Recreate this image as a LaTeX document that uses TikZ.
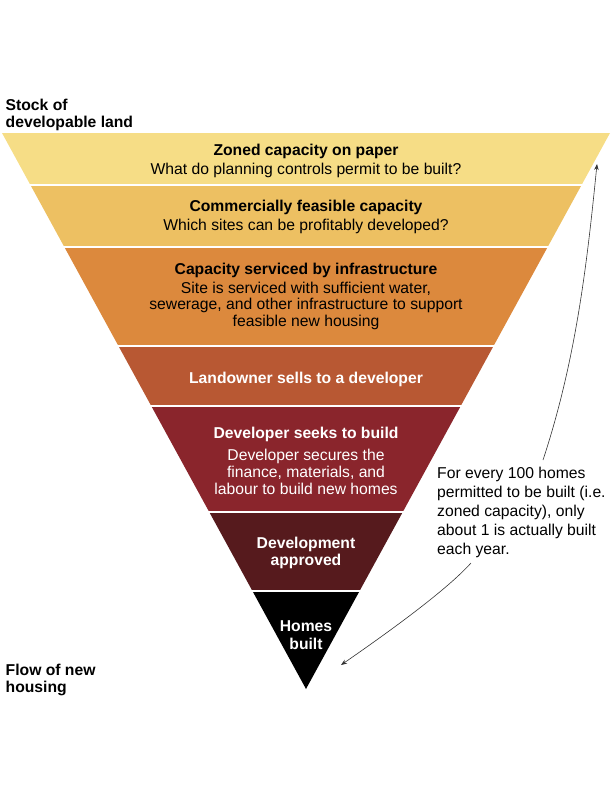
\documentclass[tikz,border=0pt]{standalone}
\usepackage{fontspec}
\setmainfont{Liberation Sans}
\usetikzlibrary{arrows.meta}

\definecolor{zoned}{HTML}{F6DD86}
\definecolor{feasible}{HTML}{EDC062}
\definecolor{serviced}{HTML}{DC893D}
\definecolor{landsale}{HTML}{B85833}
\definecolor{seeks}{HTML}{8A252C}
\definecolor{approved}{HTML}{561A1D}
\definecolor{built}{HTML}{000000}

\tikzset{
  band/.style={align=center,inner sep=0pt,font=\fontsize{15.7}{16.7}\selectfont},
  headband/.style={band,font=\fontsize{15.7}{16.7}\selectfont\bfseries},
  side/.style={anchor=west,align=left,inner sep=0pt,font=\fontsize{15.7}{17}\selectfont\bfseries},
  note/.style={anchor=west,align=left,inner sep=0pt,font=\fontsize{15.7}{19}\selectfont},
  link/.style={draw=black!80,line width=0.6pt,-{Stealth[length=6pt,width=4.5pt]}}
}

\begin{document}
\begin{tikzpicture}[x=1pt,y=-1pt]
  \useasboundingbox (0,0) rectangle (612,792);

    % funnel, one band per stage
    \foreach \ya/\yb/\col in {133/185/zoned,185/247/feasible,247/346/serviced,346/406/landsale,406/512/seeks,512/591/approved,591/689/built}{
        \pgfmathsetmacro{\xa}{2+(\ya-133)*0.5468}
        \pgfmathsetmacro{\xb}{2+(\yb-133)*0.5468}
        \fill[\col] (\xa,\ya) -- (612-\xa,\ya) -- (612-\xb,\yb) -- (\xb,\yb) -- cycle;
    }
    \foreach \y in {185,247,346,406,512,591}{
        \pgfmathsetmacro{\xa}{2+(\y-133)*0.5468}
        \draw[white,line width=2pt] (\xa-3,\y) -- (615-\xa,\y);
    }

    \node[band] (zoned) at (306,161) {\textbf{Zoned capacity on paper}\\[2pt] What do planning controls permit to be built?};
    \node[band] (feasible) at (306,217) {\textbf{Commercially feasible capacity}\\[1.5pt] Which sites can be profitably developed?};
    \node[band] (serviced) at (306,296.5) {\textbf{Capacity serviced by infrastructure}\\[2pt] Site is serviced with sufficient water,\\ sewerage, and other infrastructure to support\\ feasible new housing};
    \node[headband,white] (landsale) at (306,379) {Landowner sells to a developer};
    \node[band,white] (seeks) at (306,460.7) {\textbf{Developer seeks to build}\\[6pt] Developer secures the\\ finance, materials, and\\ labour to build new homes};
    \node[headband,white] (approved) at (306,553) {Development\\ approved};
    \node[headband,white] (built) at (306,635) {Homes\\[1.3pt] built};

    \node[side] (stock) at (5.5,115) {Stock of\\ developable land};
    \node[side] (flow) at (5.5,680) {Flow of new\\ housing};

    \node[note] (note) at (437,512.7) {For every 100 homes\\ permitted to be built (i.e.\\ zoned capacity), only\\ about 1 is actually built\\ each year.};

    \coordinate (noteTop) at (543,460);
    \coordinate (noteBot) at (471,563);
    \coordinate (capTip) at (597,164);
    \coordinate (builtTip) at (341,665);
    \draw[link] (noteTop) .. controls (576,360) and (587,264) .. (capTip);
    \draw[link] (noteBot) .. controls (445,592) and (380,638) .. (builtTip);
\end{tikzpicture}
\end{document}
